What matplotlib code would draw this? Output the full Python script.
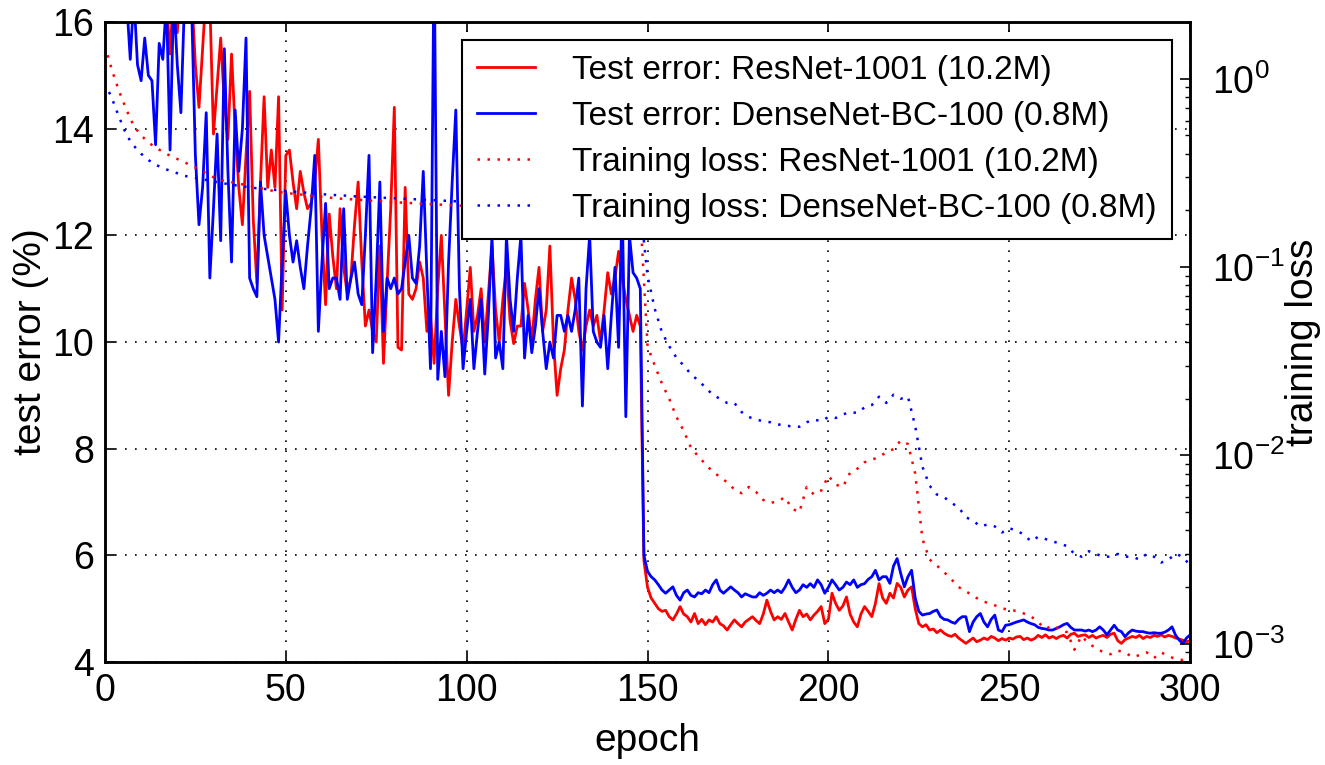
"""Test error and training loss vs. epoch, ResNet-1001 vs DenseNet-BC-100.

Left axis: test error (%), solid lines. Right axis (log): training loss, dotted.
"""

import numpy as np
import matplotlib
matplotlib.use("Agg")
import matplotlib.pyplot as plt
from matplotlib.ticker import LogLocator, LogFormatterSciNotation, NullFormatter

RED = "#ff0000"
BLUE = "#0000ff"

# test error (%) per epoch, 0..300
err_resnet = [
    18.5, 18.0, 17.8, 17.5, 17.9, 17.2, 17.6, 17.0, 17.4, 16.9,
    17.3, 16.8, 17.1, 16.6, 17.0, 16.7, 16.9, 16.4, 15.4, 16.6,
    15.8, 16.9, 16.2, 16.8, 16.5, 15.2, 14.4, 15.5, 16.6, 16.4,
    13.9, 14.8, 15.7, 14.5, 13.8, 15.4, 14.0, 12.9, 12.2, 13.5,
    14.7, 12.3, 11.1, 13.0, 14.6, 12.9, 13.6, 12.9, 14.6, 10.6,
    13.5, 13.6, 13.0, 12.5, 13.2, 12.8, 12.5, 12.6, 13.0, 13.8,
    12.0, 10.7, 12.4, 11.6, 11.0, 12.5, 11.4, 10.9, 11.2, 12.2,
    13.0, 11.5, 10.3, 10.6, 10.2, 10.0, 11.8, 9.6, 11.1, 12.5,
    14.4, 9.9, 9.85, 12.9, 10.9, 10.8, 11.0, 11.5, 11.2, 10.2,
    10.5, 9.6, 11.0, 12.0, 10.5, 9.0, 10.0, 10.8, 10.3, 9.85,
    10.6, 11.4, 10.2, 10.5, 11.0, 10.0, 10.9, 11.8, 10.6, 10.0,
    10.8, 11.4, 10.4, 9.97, 10.3, 10.3, 11.1, 10.6, 10.0, 10.8,
    11.4, 10.2, 10.6, 11.8, 10.0, 9.0, 9.5, 9.85, 10.6, 11.2,
    10.8, 10.2, 9.85, 10.3, 10.6, 10.3, 10.5, 10.0, 10.6, 11.3,
    10.9, 11.2, 11.7, 11.2, 10.8, 10.5, 10.2, 10.5, 10.3, 5.9,
    5.4, 5.2, 5.1, 5.0, 4.95, 4.97, 4.85, 4.79, 4.9, 5.04,
    4.9, 4.85, 4.75, 4.91, 4.72, 4.8, 4.7, 4.79, 4.75, 4.85,
    4.72, 4.68, 4.6, 4.7, 4.79, 4.72, 4.66, 4.75, 4.8, 4.85,
    4.78, 4.72, 4.9, 5.16, 4.95, 4.79, 4.85, 4.8, 4.91, 4.75,
    4.6, 4.8, 4.97, 4.85, 4.9, 4.79, 4.88, 4.95, 5.04, 4.72,
    4.8, 5.29, 5.1, 4.97, 5.05, 5.22, 4.9, 4.75, 4.66, 4.9,
    5.04, 4.95, 4.85, 5.1, 5.47, 5.2, 5.1, 5.29, 5.2, 5.475,
    5.4, 5.22, 5.35, 5.41, 5.0, 4.72, 4.66, 4.7, 4.6, 4.62,
    4.55, 4.6, 4.54, 4.5, 4.48, 4.52, 4.45, 4.4, 4.35, 4.4,
    4.45, 4.38, 4.41, 4.45, 4.42, 4.48, 4.45, 4.4, 4.44, 4.41,
    4.45, 4.43, 4.47, 4.48, 4.42, 4.45, 4.41, 4.44, 4.5, 4.46,
    4.51, 4.45, 4.48, 4.44, 4.48, 4.5, 4.45, 4.52, 4.54, 4.48,
    4.5, 4.51, 4.46, 4.5, 4.45, 4.48, 4.5, 4.46, 4.52, 4.54,
    4.4, 4.35, 4.42, 4.45, 4.48, 4.46, 4.5, 4.44, 4.48, 4.46,
    4.5, 4.48, 4.51, 4.47, 4.5, 4.48, 4.45, 4.43, 4.41, 4.38,
    4.4,
]
err_densenet = [
    17.5, 17.3, 17.0, 16.8, 17.2, 16.6, 16.4, 15.3, 16.5, 15.2,
    14.9, 15.7, 15.0, 14.9, 13.7, 15.6, 15.3, 16.4, 13.6, 16.5,
    15.2, 14.3, 16.4, 16.6, 16.2, 13.5, 12.2, 12.9, 14.3, 11.2,
    12.5, 13.9, 11.9, 15.5, 13.2, 11.5, 14.35, 13.2, 14.0, 15.7,
    11.2, 11.0, 10.85, 13.0, 12.0, 11.6, 11.2, 10.8, 10.0, 11.5,
    12.8, 12.0, 11.5, 11.9, 11.4, 11.0, 11.8, 12.5, 13.5, 10.2,
    11.5, 12.6, 11.0, 11.2, 11.2, 10.8, 12.5, 10.8, 11.2, 11.5,
    10.9, 10.7, 12.0, 13.5, 9.8, 11.2, 13.0, 10.2, 11.2, 11.0,
    11.2, 10.9, 11.0, 11.5, 12.0, 11.2, 11.1, 11.8, 13.2, 11.3,
    9.5, 17.5, 9.3, 10.2, 9.35, 11.5, 13.0, 14.35, 11.0, 9.5,
    10.2, 10.8, 9.5, 10.2, 10.8, 9.4, 10.5, 12.0, 9.7, 10.0,
    9.5, 12.0, 10.8, 10.2, 11.2, 12.0, 9.7, 10.5, 9.8, 10.3,
    11.0, 10.2, 9.5, 10.0, 9.7, 10.5, 10.5, 10.2, 10.5, 10.2,
    10.6, 11.2, 8.8, 11.0, 12.0, 10.2, 10.0, 9.9, 10.5, 9.5,
    10.5, 11.4, 9.9, 12.6, 8.6, 12.0, 11.3, 11.2, 11.0, 6.0,
    5.7, 5.6, 5.54, 5.45, 5.35, 5.29, 5.35, 5.41, 5.25, 5.16,
    5.3, 5.35, 5.25, 5.22, 5.3, 5.28, 5.35, 5.3, 5.45, 5.54,
    5.35, 5.29, 5.35, 5.41, 5.35, 5.3, 5.22, 5.28, 5.25, 5.22,
    5.22, 5.3, 5.25, 5.29, 5.35, 5.3, 5.35, 5.3, 5.4, 5.54,
    5.4, 5.3, 5.35, 5.45, 5.4, 5.47, 5.4, 5.54, 5.45, 5.29,
    5.4, 5.54, 5.45, 5.35, 5.4, 5.5, 5.45, 5.54, 5.4, 5.45,
    5.47, 5.55, 5.6, 5.72, 5.54, 5.6, 5.6, 5.475, 5.8, 5.94,
    5.66, 5.41, 5.6, 5.72, 5.2, 4.95, 4.88, 4.9, 4.91, 4.95,
    4.975, 4.85, 4.8, 4.79, 4.75, 4.725, 4.8, 4.85, 4.85, 4.57,
    4.75, 4.85, 4.91, 4.75, 4.66, 4.8, 4.88, 4.6, 4.57, 4.69,
    4.7, 4.725, 4.75, 4.77, 4.79, 4.75, 4.72, 4.7, 4.65, 4.63,
    4.62, 4.6, 4.6, 4.63, 4.66, 4.7, 4.725, 4.65, 4.6, 4.6,
    4.6, 4.58, 4.6, 4.57, 4.6, 4.66, 4.6, 4.51, 4.6, 4.69,
    4.6, 4.57, 4.475, 4.55, 4.6, 4.58, 4.57, 4.57, 4.55, 4.54,
    4.55, 4.54, 4.54, 4.56, 4.6, 4.66, 4.5, 4.41, 4.35, 4.45,
    4.51,
]

# training loss every 2 epochs, 0..300
loss_resnet = [
    1.5, 1.1, 0.85, 0.68, 0.56, 0.5, 0.46, 0.43, 0.41, 0.39,
    0.375, 0.36, 0.345, 0.33, 0.315, 0.3, 0.29, 0.285, 0.28, 0.275,
    0.27, 0.265, 0.26, 0.255, 0.25, 0.248, 0.245, 0.243, 0.24, 0.238,
    0.236, 0.234, 0.232, 0.23, 0.229, 0.228, 0.226, 0.225, 0.224, 0.222,
    0.221, 0.22, 0.219, 0.218, 0.217, 0.216, 0.215, 0.214, 0.213, 0.212,
    0.211, 0.21, 0.209, 0.208, 0.207, 0.206, 0.205, 0.204, 0.203, 0.202,
    0.201, 0.2, 0.199, 0.198, 0.197, 0.196, 0.196, 0.195, 0.194, 0.194,
    0.193, 0.192, 0.192, 0.191, 0.19, 0.038, 0.03, 0.024, 0.02, 0.016,
    0.0135, 0.011, 0.0099, 0.009, 0.0082, 0.0077, 0.0072, 0.0066, 0.0063, 0.0068,
    0.0064, 0.0058, 0.0056, 0.0057, 0.006, 0.0052, 0.005, 0.0068, 0.0062, 0.0065,
    0.0078, 0.007, 0.0068, 0.0081, 0.0085, 0.0092, 0.0095, 0.0098, 0.0104, 0.0108,
    0.012, 0.0115, 0.008, 0.0036, 0.0028, 0.0026, 0.0024, 0.0022, 0.002, 0.0019,
    0.0018, 0.0017, 0.00165, 0.0016, 0.00155, 0.0015, 0.0015, 0.00145, 0.0014, 0.0013,
    0.0012, 0.00125, 0.0012, 0.00115, 0.00093, 0.0011, 0.001, 0.00095, 0.0009, 0.00088,
    0.00092, 0.0009, 0.00085, 0.00087, 0.0009, 0.00084, 0.0009, 0.00086, 0.00083, 0.00082,
    0.00085,
]
loss_densenet = [
    0.95, 0.78, 0.62, 0.5, 0.44, 0.4, 0.37, 0.35, 0.335, 0.325,
    0.315, 0.305, 0.3, 0.295, 0.29, 0.285, 0.28, 0.276, 0.272, 0.268,
    0.265, 0.262, 0.26, 0.258, 0.256, 0.254, 0.252, 0.25, 0.248, 0.246,
    0.244, 0.242, 0.241, 0.24, 0.238, 0.237, 0.236, 0.235, 0.234, 0.233,
    0.232, 0.231, 0.23, 0.229, 0.228, 0.227, 0.226, 0.225, 0.224, 0.223,
    0.222, 0.222, 0.221, 0.22, 0.219, 0.219, 0.218, 0.217, 0.217, 0.216,
    0.215, 0.215, 0.214, 0.214, 0.213, 0.213, 0.212, 0.212, 0.211, 0.211,
    0.21, 0.21, 0.209, 0.209, 0.208, 0.09, 0.06, 0.045, 0.038, 0.033,
    0.03, 0.027, 0.025, 0.023, 0.021, 0.02, 0.019, 0.019, 0.017, 0.016,
    0.0155, 0.0152, 0.015, 0.0146, 0.0145, 0.0142, 0.0142, 0.015, 0.0155, 0.0152,
    0.016, 0.0158, 0.0165, 0.017, 0.0168, 0.018, 0.0185, 0.0205, 0.019, 0.021,
    0.02, 0.0205, 0.0143, 0.0087, 0.0069, 0.0062, 0.006, 0.0056, 0.0053, 0.0047,
    0.0045, 0.0042, 0.0043, 0.0042, 0.0039, 0.0041, 0.004, 0.0038, 0.0035, 0.0037,
    0.0036, 0.0035, 0.0034, 0.0033, 0.003, 0.0029, 0.0031, 0.003, 0.0029, 0.0029,
    0.003, 0.0029, 0.0029, 0.0028, 0.003, 0.0029, 0.0027, 0.0028, 0.003, 0.0029,
    0.0026,
]

labels = [
    "Test error: ResNet-1001 (10.2M)",
    "Test error: DenseNet-BC-100 (0.8M)",
    "Training loss: ResNet-1001 (10.2M)",
    "Training loss: DenseNet-BC-100 (0.8M)",
]


def main():
    plt.rcParams["font.family"] = ["Liberation Sans", "DejaVu Sans"]
    plt.rcParams["mathtext.fontset"] = "custom"
    plt.rcParams["mathtext.rm"] = "Liberation Sans"
    plt.rcParams["mathtext.default"] = "regular"

    ep_err = np.arange(len(err_resnet))
    ep_loss = np.arange(0, 2 * len(loss_resnet), 2)

    fig = plt.figure(figsize=(13.25, 7.65), dpi=100)
    fig.patch.set_facecolor("white")
    ax = fig.add_axes([0.0792, 0.1346, 0.819, 0.8366])
    ax2 = ax.twinx()

    h1, = ax.plot(ep_err, err_resnet, color=RED, lw=2.0)
    h2, = ax.plot(ep_err, err_densenet, color=BLUE, lw=2.0)
    h3, = ax2.plot(ep_loss, loss_resnet, color=RED, lw=1.8, ls=(0, (1, 3)))
    h4, = ax2.plot(ep_loss, loss_densenet, color=BLUE, lw=1.8, ls=(0, (1, 3)))

    ax.set_xlim(0, 300)
    ax.set_ylim(4, 16)
    ax.set_xticks(np.arange(0, 301, 50))
    ax.set_yticks(np.arange(4, 17, 2))
    ax.grid(True, color="black", ls=(0, (1, 5)), lw=1.2)

    ax2.set_yscale("log")
    ax2.set_ylim(8e-4, 2.0)
    ax2.yaxis.set_major_locator(LogLocator(base=10))
    ax2.yaxis.set_major_formatter(LogFormatterSciNotation())
    ax2.yaxis.set_minor_locator(LogLocator(base=10, subs=np.arange(2, 10)))
    ax2.yaxis.set_minor_formatter(NullFormatter())

    for a in (ax, ax2):
        for sp in a.spines.values():
            sp.set_linewidth(1.8)
            sp.set_color("black")
    ax.tick_params(axis="both", which="major", direction="in", length=7,
                   width=1.2, labelsize=27, pad=8, top=True, right=False)
    ax2.tick_params(axis="y", which="major", direction="in", length=7,
                    width=1.2, labelsize=27, pad=16)
    ax2.tick_params(axis="y", which="minor", direction="in", length=3.5,
                    width=1.0)

    ax.set_xlabel("epoch", fontsize=28, labelpad=10)
    ax.set_ylabel("test error (%)", fontsize=28, labelpad=2)
    ax2.set_ylabel("training loss", fontsize=28, labelpad=0)

    leg = ax2.legend([h1, h2, h3, h4], labels, loc="upper right",
                     bbox_to_anchor=(0.983, 0.972), borderaxespad=0,
                     fontsize=24, fancybox=False, framealpha=1,
                     edgecolor="black", handlelength=1.75,
                     handletextpad=1.1, labelspacing=0.45, borderpad=0.45)
    leg.get_frame().set_linewidth(1.5)

    fig.savefig("out.png", dpi=100, facecolor="white")
    plt.close(fig)


if __name__ == "__main__":
    main()
